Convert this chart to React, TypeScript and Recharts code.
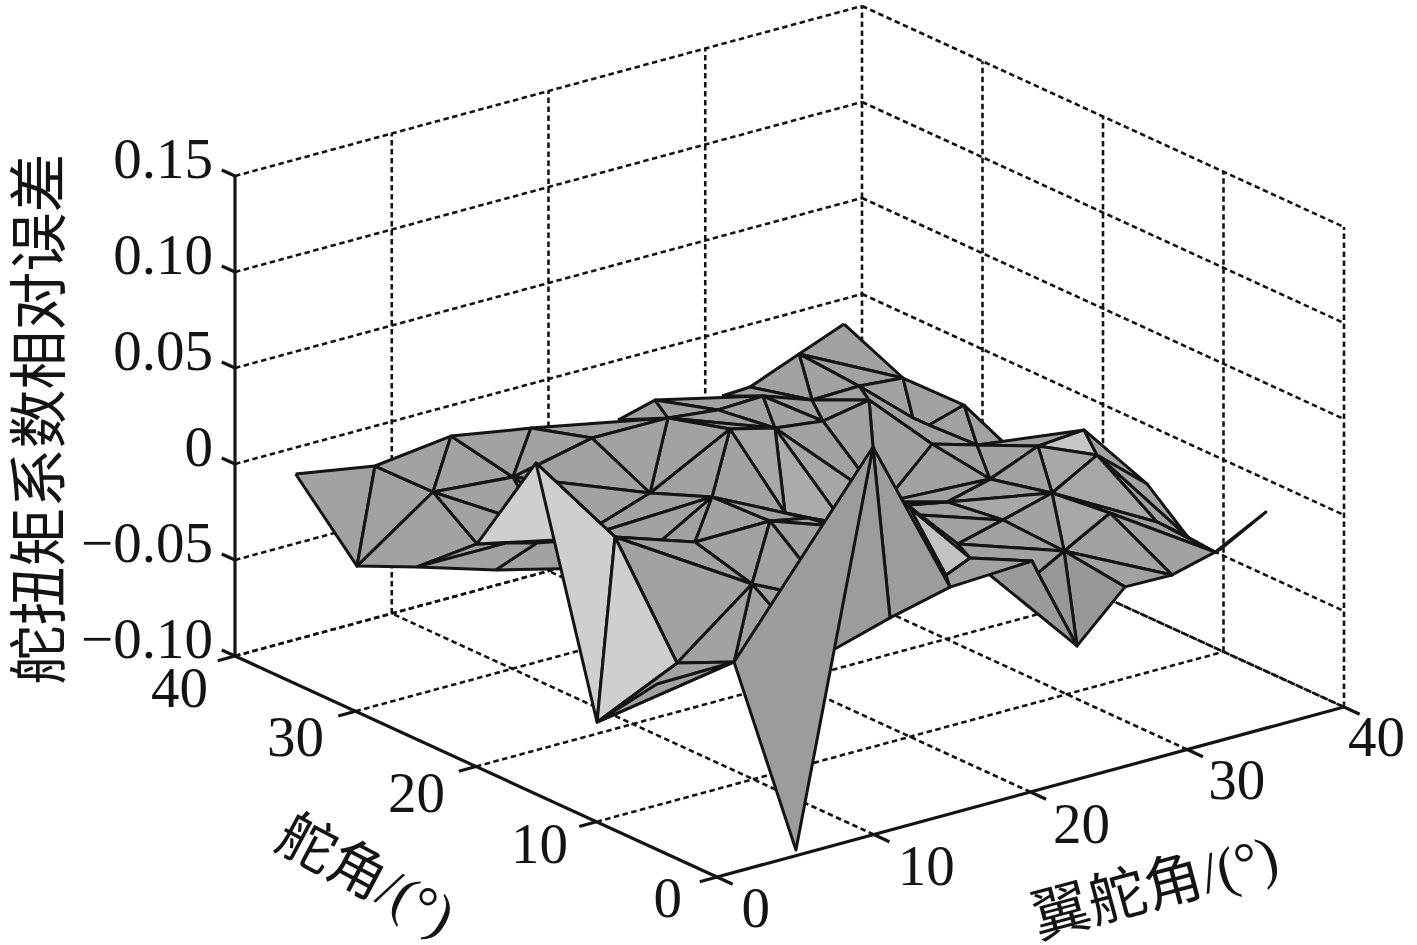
import React from 'react';
import { ScatterChart, Scatter, XAxis, YAxis } from 'recharts';

// ---------- data: surface vertices (wing angle, rudder angle, relative error) ----------
const vertexNames = ['V0','V1','V2','V3','V4','V5','V6','V7','V8','V9','V10','V11','S1','V13','H10','C1','V','S','T1','T2','T3','S2','X','B1','B2','B3',
  'P','Q','R','K','J','H','I','G','Y50','Y72','Eb','Ea','F','M','N','O','U1','U2','V787','V808','V770','Up','Uq','V752',
  'H1','H2','H3','H5','H6','H7','H8','H9','H11','H12','H14','H15','H16',
  'L','L2','Y1','A26','W6','W7','W4','Y2','Y3','Y4','Y5','Y6','Y7','Y7b','A24','Y8','Y9','Z','W','W2','W3','W5','W8','W9','A9b','W11','W12','W13','A13','A25','Lt'];
const wingAngles = [0,5.08,9.94,15.06,15.09,0.05,4.91,10.03,-0.03,0.01,5.06,3.81,5.77,7.88,7.84,-0.14,4.92,-0.11,5.01,4.78,3.73,4.86,9.79,7.23,14.76,14.72,
  35.1,32.22,34.99,32.18,28.94,29.17,25.99,26.03,29.08,27.29,23,20.63,19.95,23.15,22.92,20.04,14.92,15.01,19.68,21.15,14.84,7.93,10.04,9.81,
  3.32,3.32,18.32,19.79,19.92,16.98,16.59,15.76,15.12,15.12,13.84,9,8.04,
  31.75,32.78,35.02,37.51,31.97,29.09,31.99,34.94,31.89,35.09,33.83,35.56,34.94,35.94,31.85,28.93,25.92,26.73,25.9,28.84,29.01,28.92,25.87,22.29,20.56,19.11,19.88,19.97,24.23,20.84,18.34];
const rudderAngles = [35,35,35,35,30,30,30,30,20,25,25,20,25,25,20,15,15,10,10,5,10,0,0,0,5,0,
  35,35,30,30,25,30,25,30,35,35,35,35,30,30,25,25,25,20,20,20,15,15,15,10,
  15,15,10,10,10,10,10,10,10,10,10,5,5,
  25,25,25,25,20,20,15,15,10,10,5,5,0,5,5,0,0,5,5,5,10,15,10,10,10,5,5,0,5,5,5];
const errorValues = [0.0089,0.0017,0.0064,-0.0009,0.0085,-0.0245,0.0032,-0.0005,0.0165,-0.0102,-0.0231,0.0084,-0.0106,-0.007,-0.0137,0.0736,0.0237,-0.0468,-0.0275,-0.0118,-0.0356,-0.0953,0.1036,0.0036,-0.0112,0.0196,
  0.0084,-0.0007,-0.0048,-0.0027,0.0119,-0.0032,0.0076,0.0059,-0.0109,-0.0116,-0.0041,-0.0092,0.0081,0.0051,0.0108,0.0168,-0.0051,0.0073,-0.0115,-0.0174,0.0098,0.0154,0.0096,0.0029,
  0.0309,0.0283,0.0265,0.0217,0.0198,0.0431,0.0393,0.0203,0.0212,0.0233,-0.003,0.0141,0.0017,
  -0.0037,-0.0097,-0.0043,-0.0291,-0.0036,0.0033,0.0104,0.0122,0.0206,-0.0016,-0.0118,-0.0235,0.0134,-0.0227,0.0005,-0.0059,-0.0054,-0.0526,-0.0013,0.0119,0.0073,0.0001,0.0003,0.0177,0.0148,0.0176,0.0085,0.0214,-0.009,-0.0004,0.0031];

// facets of the triangulated surface, back to front
const facets = [
  'P Q R','Q K R','Q H K','Y50 Q H','Y72 Y50 H G','R K L','R L L2 Y1','Y1 L2 W6','Y1 W6 A26','K J W7 W6 L2 L','H K J',
  'W6 W7 W5','W6 Y2 W4','W6 W4 W5','W4 Y2 Y3','W4 Y3 W3','W4 W3 W5',
  'Y2 Y4 Y3','Y3 Y4 Y5','Y3 Y5 A24','A24 Y5 Y6','W3 Y3 A24','W3 A24 Y6 W2','Y6 Y7 Y7b','W2 Y6 Y8','W2 Y8 W','W3 W2 W','W Y8 Y9','W Y9 Z',
  'W5 W3 W9','W9 W3 W8','W8 W3 W','W9 W8 A9b H5','A9b W8 W11','W8 W W11','W7 W5 H3','H3 W5 W9','H3 W9 H5','J X H3 W7',
  'W Z A13','W11 W A13 W13 W12','W13 A13 Z A25','Lt W12 W13 B3','H6 W12 Lt',
  'V3 F V4','Ea Eb F','Eb G M','Eb M F','M G N','F M N','F N O','G H I','H J I','G I N','I J X H7','N I H7 H8','N H8 H9','N H9 V787','O N V787','O V787 U2','O U2 U1','F O U1','F U1 V4',
  'V0 V1 V5','V1 V6 V5','V1 V2 V6','V2 V7 V6','V2 V3 V7','V3 V4 V7','V7 V4 U1','V7 U1 H1','V6 V7 V13','V6 V13 V8','V5 V6 V8 V9','V9 V8 S1','V9 S1 V11 V10','V10 V11 V H10',
  'U1 U2 H2 H1','U2 H2 V Up','U2 Up Uq','U2 Uq V770','U2 V808 V770','V787 H9 H12 V808','V770 V808 H11','Uq V770 V752','V770 H11 H14','V770 H14 H15 V752','V752 H15 H16','V752 H16 T2','V V752 Uq','V T1 V752','T1 T2 V752','S T1 T2','S T3 T2',
  'V8 C1 V','C1 S V','V S T1','X B2 B3','X B1 B2','X T2 S2',
];

const zTicks = [-0.1, -0.05, 0, 0.05, 0.1, 0.15];
const zTickLabels = ['\u22120.10', '\u22120.05', '0', '0.05', '0.10', '0.15'];
const angleTicks = [0, 10, 20, 30, 40];
const zAxisTitle = '舵扭矩系数相对误差';
const rudderAxisTitle = '舵角/(°)';
const wingAxisTitle = '翼舵角/(°)';

// ---------- view and style ----------
const W = 1417, H = 945;
const Z0 = -0.1, Z1 = 0.15;
// view of the axes box
const project = (w: number, r: number, z: number) => ({
  sx: 717 + 15.675 * w - 12.05 * r,
  sy: 877 - 4.25 * w - 5.525 * r - (z - Z0) * 1920,
});
// view of the surface
const projectSurface = (w: number, r: number, z: number) => ({
  sx: 720 + 15.625 * w - 12.125 * r,
  sy: 880 - 4.3 * w - 5.625 * r - (z - Z0) * 1920,
});
const INK = '#141414';
const GRAY = '#a2a2a2';
const FACET_FILL: Record<string, string> = {
  'W4 Y2 Y3': '#c6c6c6', 'H6 W12 Lt': '#c2c2c2', 'V8 C1 V': '#cfcfcf', 'C1 S V': '#cfcfcf', 'V S T1': '#cfcfcf',
  'N H9 V787': '#ababab', 'N H8 H9': '#a6a6a6', 'O N V787': '#a8a8a8', 'W4 Y3 W3': '#a8a8a8', 'W3 Y3 A24': '#a8a8a8',
  'W3 W2 W': '#a8a8a8', 'W9 W3 W8': '#a8a8a8', 'W Z A13': '#989898', 'W Y9 Z': '#989898', 'W13 A13 Z A25': '#9a9a9a',
  'X B2 B3': '#9c9c9c', 'X B1 B2': '#9c9c9c', 'X T2 S2': '#9c9c9c',
};
const SERIF = "'Liberation Serif','Noto Sans CJK SC',serif";
const FS = 57;
const RUDDER_OFFSET = [[-35, 40], [-28.5, 41], [-31, 45.5], [-31.5, 44.75], [-27, 51]];
const WING_OFFSET = [[53, 50], [81, 50.5], [79.5, 51], [78, 49.5], [61, 49]];

const vertex = (name: string) => {
  const i = vertexNames.indexOf(name);
  return projectSurface(wingAngles[i], rudderAngles[i], errorValues[i]);
};
const facetPoints = (f: string) => {
  const pts = f.split(' ').map(vertex);
  return [...pts, pts[0]];
};

type Seg = { a: number[]; b: number[] };
const solid: Seg[] = [
  { a: [0, 40, Z0], b: [0, 40, Z1] },
  { a: [0, 0, Z0], b: [0, 40, Z0] },
  { a: [0, 0, Z0], b: [40, 0, Z0] },
  ...zTicks.map((z) => ({ a: [0, 40, z], b: [0, 41.1, z] })),
  ...angleTicks.map((r) => ({ a: [0, r, Z0], b: [-1.1, r, Z0] })),
  ...angleTicks.map((w) => ({ a: [w, 0, Z0], b: [w, -1.3, Z0] })),
];
const dashed: Seg[] = [
  ...angleTicks.slice(1).map((w) => ({ a: [w, 0, Z0], b: [w, 40, Z0] })),
  ...angleTicks.slice(1).map((r) => ({ a: [0, r, Z0], b: [40, r, Z0] })),
  ...zTicks.map((z) => ({ a: [0, 40, z], b: [40, 40, z] })),
  ...zTicks.map((z) => ({ a: [40, 40, z], b: [40, 0, z] })),
  ...angleTicks.slice(1).map((w) => ({ a: [w, 40, Z0], b: [w, 40, Z1] })),
  ...angleTicks.slice(0, 4).map((r) => ({ a: [40, r, Z0], b: [40, r, Z1] })),
];
const segPts = (s: Seg) => [project(s.a[0], s.a[1], s.a[2]), project(s.b[0], s.b[1], s.b[2])];

type Txt = { sx: number; sy: number; label: string; anchor?: string; rotate?: number; size?: number };
const texts: Txt[] = [
  ...zTicks.map((z, i) => ({ sx: 213, sy: project(0, 40, z).sy + 2, label: zTickLabels[i], anchor: 'end' })),
  ...angleTicks.map((r, i) => {
    const p = project(0, r, Z0);
    return { sx: p.sx + RUDDER_OFFSET[i][0], sy: p.sy + RUDDER_OFFSET[i][1], label: String(r), anchor: 'end' };
  }),
  ...angleTicks.map((w, i) => {
    const p = project(w, 0, Z0);
    return { sx: p.sx + WING_OFFSET[i][0], sy: p.sy + WING_OFFSET[i][1], label: String(w), anchor: 'end' };
  }),
  { sx: 60, sy: 419, label: zAxisTitle, anchor: 'middle', rotate: -90, size: 59 },
  { sx: 357, sy: 892, label: rudderAxisTitle, anchor: 'middle', rotate: 28, size: 57 },
  { sx: 1160, sy: 906, label: wingAxisTitle, anchor: 'middle', rotate: -15, size: 58 },
];

const noDot = () => null;
const textShape = (p: any) => {
  const t: Txt = p.payload;
  return (
    <text
      x={p.cx}
      y={p.cy}
      textAnchor={t.anchor as any}
      fontFamily={SERIF}
      fontSize={t.size ?? FS}
      fill={INK}
      transform={t.rotate ? `rotate(${t.rotate} ${p.cx} ${p.cy})` : undefined}
    >
      {t.label}
    </text>
  );
};

export default function App() {
  return (
    <div style={{ position: 'absolute', left: 0, top: 0, width: W, height: H, background: '#fff' }}>
      <ScatterChart width={W} height={H} margin={{ top: 0, right: 0, bottom: 0, left: 0 }}>
        <XAxis type="number" dataKey="sx" domain={[0, W]} hide allowDataOverflow />
        <YAxis type="number" dataKey="sy" domain={[0, H]} reversed hide allowDataOverflow />
        {dashed.map((s, i) => (
          <Scatter
            key={`d${i}`}
            data={segPts(s)}
            shape={noDot}
            isAnimationActive={false}
            line={{ stroke: INK, strokeWidth: 2.6, strokeDasharray: '5.5 3.5', fill: 'none' }}
          />
        ))}
        {solid.map((s, i) => (
          <Scatter
            key={`s${i}`}
            data={segPts(s)}
            shape={noDot}
            isAnimationActive={false}
            line={{ stroke: INK, strokeWidth: 3.2, fill: 'none' }}
          />
        ))}
        {facets.map((f) => (
          <Scatter
            key={f}
            data={facetPoints(f)}
            shape={noDot}
            isAnimationActive={false}
            line={{ stroke: INK, strokeWidth: 3, fill: FACET_FILL[f] ?? GRAY, strokeLinejoin: 'round' }}
          />
        ))}
        <Scatter data={texts} shape={textShape} isAnimationActive={false} />
      </ScatterChart>
    </div>
  );
}
